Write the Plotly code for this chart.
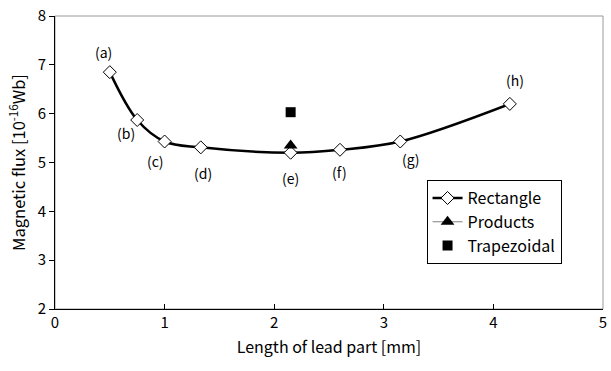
import plotly.graph_objects as go

# Data
rect_x = [0.5, 0.75, 1.0, 1.33, 2.15, 2.6, 3.15, 4.15]
rect_y = [6.85, 5.87, 5.43, 5.31, 5.2, 5.26, 5.43, 6.2]
prod_x = [2.15]
prod_y = [5.35]
trap_x = [2.15]
trap_y = [6.03]
label_text = ["(a)", "(b)", "(c)", "(d)", "(e)", "(f)", "(g)", "(h)"]
label_x = [0.44, 0.65, 0.92, 1.35, 2.15, 2.6, 3.25, 4.2]
label_y = [7.27, 5.6, 5.03, 4.79, 4.69, 4.81, 5.07, 6.69]

FONT = "Noto Sans CJK JP"

fig = go.Figure()
fig.add_trace(go.Scatter(
    x=rect_x, y=rect_y, mode="lines+markers", name="Rectangle", legendgroup="r",
    line=dict(color="black", width=2.5, shape="spline", smoothing=1.0),
    marker=dict(symbol="diamond", size=10, color="white",
                line=dict(color="black", width=1)),
))
fig.add_trace(go.Scatter(
    x=prod_x, y=prod_y, mode="lines+markers", name="Products", legendgroup="p",
    line=dict(color="#808080", width=1),
    marker=dict(symbol="triangle-up", size=12, color="black"),
))
fig.add_trace(go.Scatter(
    x=trap_x, y=trap_y, mode="markers", name="Trapezoidal", legendgroup="t",
    marker=dict(symbol="square", size=10, color="black"),
))

for t, lx, ly in zip(label_text, label_x, label_y):
    fig.add_annotation(x=lx, y=ly, text=t, showarrow=False,
                       font=dict(family=FONT, size=14, color="black"))

fig.add_shape(type="rect", xref="paper", yref="paper", x0=0, y0=0, x1=1, y1=1,
              line=dict(color="#9a9a9a", width=1), layer="below")

fig.update_layout(
    width=611, height=371,
    margin=dict(l=55, r=4, t=12, b=62),
    paper_bgcolor="white", plot_bgcolor="white",
    font=dict(family=FONT, size=15, color="black"),
    showlegend=True,
    legend=dict(x=0.678, y=0.44, xanchor="left", yanchor="top",
                bordercolor="black", borderwidth=1, bgcolor="white",
                tracegroupgap=0,
                font=dict(family=FONT, size=16)),
    xaxis=dict(range=[0, 5], dtick=1, showgrid=False, zeroline=False,
               showline=True, linecolor="black", linewidth=1,
               ticks="inside", ticklen=5, tickcolor="black",
               ticklabeloverflow="allow",
               title=dict(text="Length of lead part [mm]", font=dict(size=16), standoff=10)),
    yaxis=dict(range=[2, 8], dtick=1, showgrid=False, zeroline=False,
               showline=True, linecolor="black", linewidth=1,
               ticks="outside", ticklen=5, tickcolor="black",
               title=dict(text="Magnetic flux [10<sup>-16</sup>Wb]", font=dict(size=16.5), standoff=7)),
)

fig.write_html("out.html")
